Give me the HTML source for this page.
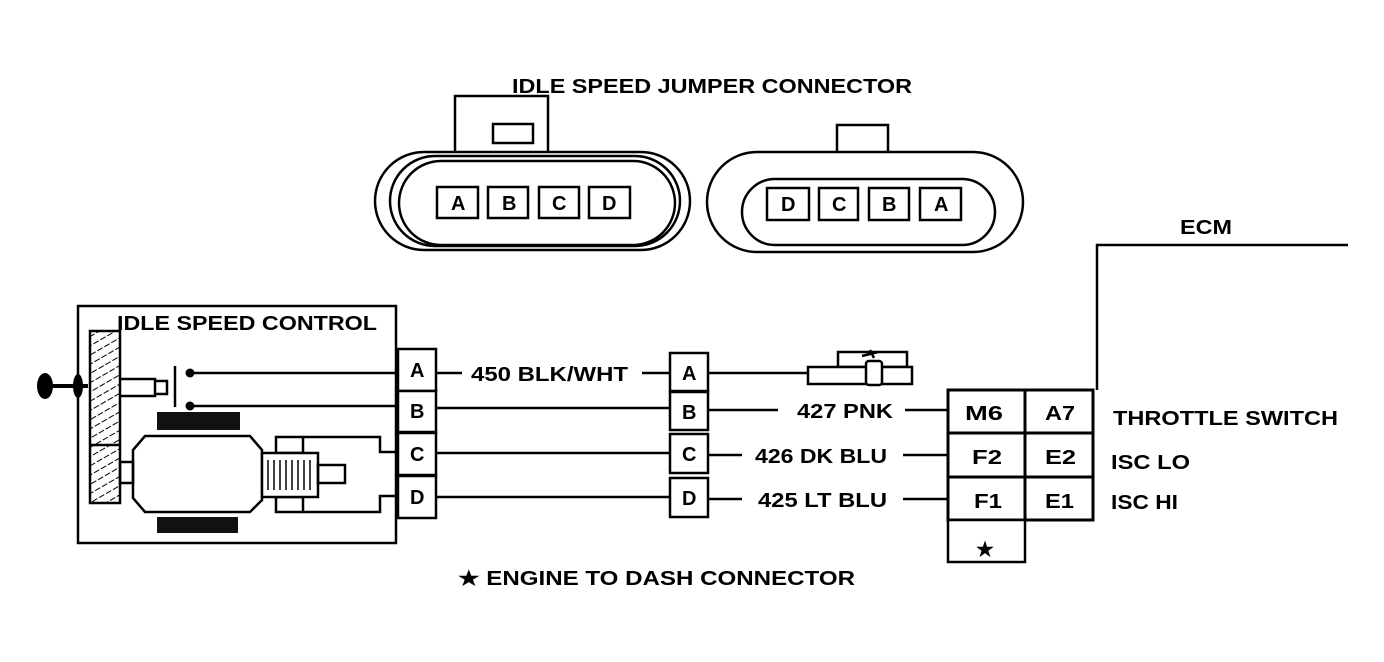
<!DOCTYPE html>
<html><head><meta charset="utf-8"><style>
body{margin:0;background:#fff}
svg{display:block}
text{font-family:"Liberation Sans",sans-serif;font-weight:bold;font-size:20px;fill:#000}
</style></head><body>
<svg width="1384" height="662" viewBox="0 0 1384 662" xmlns="http://www.w3.org/2000/svg">
<defs>
<pattern id="h" width="8" height="8" patternUnits="userSpaceOnUse" patternTransform="rotate(60)">
<rect width="8" height="8" fill="#fff"/><line x1="0" y1="0" x2="0" y2="8" stroke="#000" stroke-width="2" stroke-dasharray="3 2"/>
</pattern>
</defs>
<text x="512" y="93" textLength="400" lengthAdjust="spacingAndGlyphs">IDLE SPEED JUMPER CONNECTOR</text>
<g fill="#fff" stroke="#000" stroke-width="2.5">
<rect x="455" y="96" width="93" height="58"/>
<rect x="493" y="124" width="40" height="19"/>
<rect x="375" y="152" width="315" height="98" rx="49"/>
<rect x="390" y="156" width="290" height="90" rx="45"/>
<rect x="399" y="161" width="276" height="84" rx="42"/>
<rect x="437" y="187" width="41" height="31"/>
<rect x="488" y="187" width="40" height="31"/>
<rect x="539" y="187" width="40" height="31"/>
<rect x="589" y="187" width="41" height="31"/>
<rect x="837" y="125" width="51" height="28"/>
<rect x="707" y="152" width="316" height="100" rx="50"/>
<rect x="742" y="179" width="253" height="66" rx="33"/>
<rect x="767" y="188" width="42" height="32"/>
<rect x="819" y="188" width="39" height="32"/>
<rect x="869" y="188" width="40" height="32"/>
<rect x="920" y="188" width="41" height="32"/>
</g>
<g font-size="18">
<text x="451" y="210">A</text><text x="502" y="210">B</text><text x="552" y="210">C</text><text x="602" y="210">D</text>
<text x="781" y="211">D</text><text x="832" y="211">C</text><text x="882" y="211">B</text><text x="934" y="211">A</text>
</g>

<g fill="none" stroke="#000" stroke-width="2.5">
<rect x="78" y="306" width="318" height="237"/>
<rect x="90" y="331" width="30" height="172" fill="url(#h)"/>
<line x1="90" y1="445" x2="120" y2="445"/>
<path d="M120 379H155V396H120M155 381h12v13h-12" />
<line x1="175" y1="366" x2="175" y2="407"/>
<path d="M38 386H88" stroke-width="4"/>
<line x1="190" y1="373" x2="398" y2="373"/>
<line x1="190" y1="406" x2="398" y2="406"/>
<path d="M145 436H250L262 450V500L250 512H145L133 498V450Z" fill="#fff"/>
<rect x="120" y="462" width="13" height="21"/>
<rect x="276" y="437" width="27" height="16" fill="#fff"/>
<rect x="276" y="497" width="27" height="15" fill="#fff"/>
<path d="M303 437H380V452H398M303 512H380V496H398"/>
<rect x="262" y="453" width="56" height="44" fill="#fff"/>
<rect x="318" y="465" width="27" height="18"/>
</g>
<g stroke="#000" stroke-width="1.5">
<line x1="268" y1="460" x2="268" y2="490"/><line x1="274" y1="460" x2="274" y2="490"/><line x1="280" y1="460" x2="280" y2="490"/><line x1="286" y1="460" x2="286" y2="490"/><line x1="292" y1="460" x2="292" y2="490"/><line x1="298" y1="460" x2="298" y2="490"/><line x1="304" y1="460" x2="304" y2="490"/><line x1="310" y1="460" x2="310" y2="490"/>
</g>
<ellipse cx="45" cy="386" rx="8" ry="13" fill="#000"/>
<ellipse cx="78" cy="386" rx="5" ry="12" fill="#000"/>
<circle cx="190" cy="373" r="4.5" fill="#000"/>
<circle cx="190" cy="406" r="4.5" fill="#000"/>
<rect x="157" y="412" width="83" height="18" fill="#111"/>
<rect x="157" y="517" width="81" height="16" fill="#111"/>
<text x="117" y="330" textLength="260" lengthAdjust="spacingAndGlyphs">IDLE SPEED CONTROL</text>

<g fill="#fff" stroke="#000" stroke-width="2.5">
<rect x="398" y="349" width="38" height="42"/>
<rect x="398" y="391" width="38" height="41"/>
<rect x="398" y="433" width="38" height="42"/>
<rect x="398" y="476" width="38" height="42"/>
<rect x="670" y="353" width="38" height="38"/>
<rect x="670" y="392" width="38" height="38"/>
<rect x="670" y="434" width="38" height="39"/>
<rect x="670" y="478" width="38" height="39"/>
</g>
<g font-size="18">
<text x="410" y="377">A</text><text x="410" y="418">B</text><text x="410" y="461">C</text><text x="410" y="504">D</text>
<text x="682" y="380">A</text><text x="682" y="419">B</text><text x="682" y="461">C</text><text x="682" y="505">D</text>
</g>
<g fill="none" stroke="#000" stroke-width="2.5">
<line x1="436" y1="373" x2="462" y2="373"/><line x1="642" y1="373" x2="670" y2="373"/>
<line x1="436" y1="408" x2="670" y2="408"/>
<line x1="436" y1="453" x2="670" y2="453"/>
<line x1="436" y1="497" x2="670" y2="497"/>
<line x1="708" y1="373" x2="808" y2="373"/>
<line x1="708" y1="410" x2="778" y2="410"/><line x1="905" y1="410" x2="948" y2="410"/>
<line x1="708" y1="455" x2="742" y2="455"/><line x1="903" y1="455" x2="948" y2="455"/>
<line x1="708" y1="499" x2="742" y2="499"/><line x1="903" y1="499" x2="948" y2="499"/>
<rect x="838" y="352" width="69" height="15" fill="#fff"/>
<rect x="808" y="367" width="104" height="17" fill="#fff"/>
<rect x="866" y="361" width="16" height="24" rx="3" fill="#fff"/>
<path d="M862 356L878 352M870 350l4 8"/>
<path d="M1097 390V245H1348"/>
</g>
<text x="471" y="381" textLength="157" lengthAdjust="spacingAndGlyphs">450 BLK/WHT</text>
<text x="797" y="418" textLength="96" lengthAdjust="spacingAndGlyphs">427 PNK</text>
<text x="755" y="463" textLength="132" lengthAdjust="spacingAndGlyphs">426 DK BLU</text>
<text x="758" y="507" textLength="129" lengthAdjust="spacingAndGlyphs">425 LT BLU</text>
<g fill="#fff" stroke="#000" stroke-width="3">
<rect x="948" y="390" width="77" height="43"/>
<rect x="1025" y="390" width="68" height="43"/>
<rect x="948" y="433" width="77" height="44"/>
<rect x="1025" y="433" width="68" height="44"/>
<rect x="948" y="477" width="77" height="43"/>
<rect x="1025" y="477" width="68" height="43"/>
<rect x="948" y="520" width="77" height="42" stroke-width="2.5"/>
</g>
<text x="965" y="420" textLength="38" lengthAdjust="spacingAndGlyphs">M6</text><text x="1045" y="420" textLength="30" lengthAdjust="spacingAndGlyphs">A7</text>
<text x="972" y="464" textLength="30" lengthAdjust="spacingAndGlyphs">F2</text><text x="1045" y="464" textLength="31" lengthAdjust="spacingAndGlyphs">E2</text>
<text x="974" y="508" textLength="28" lengthAdjust="spacingAndGlyphs">F1</text><text x="1045" y="508" textLength="29" lengthAdjust="spacingAndGlyphs">E1</text>
<text x="976" y="556" font-size="22">★</text>
<text x="1180" y="234" textLength="52" lengthAdjust="spacingAndGlyphs">ECM</text>
<text x="1113" y="425" textLength="225" lengthAdjust="spacingAndGlyphs">THROTTLE SWITCH</text>
<text x="1111" y="469" textLength="79" lengthAdjust="spacingAndGlyphs">ISC LO</text>
<text x="1111" y="509" textLength="67" lengthAdjust="spacingAndGlyphs">ISC HI</text>
<text x="458" y="585" textLength="397" lengthAdjust="spacingAndGlyphs">★ ENGINE TO DASH CONNECTOR</text>
</svg>
</body></html>
